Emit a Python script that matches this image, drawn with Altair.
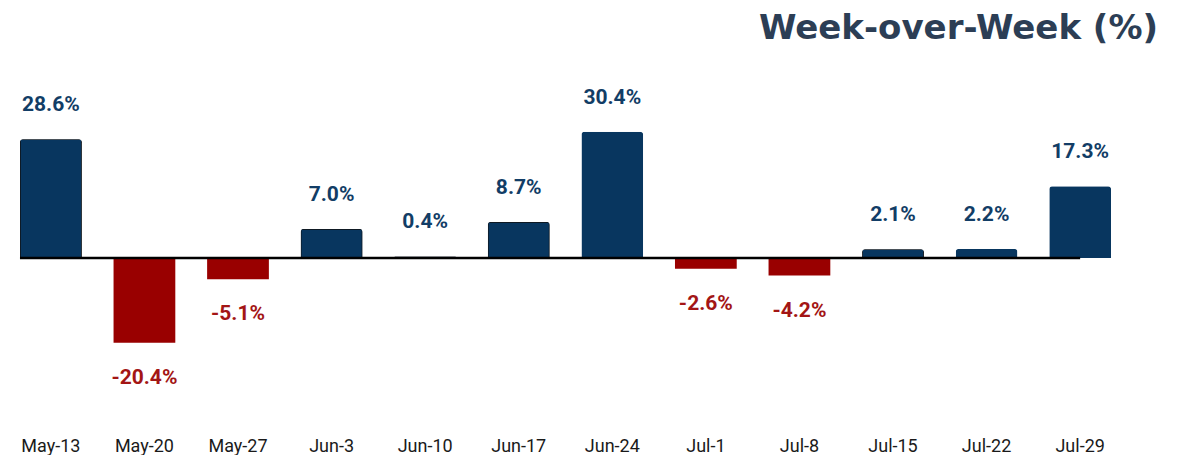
import altair as alt
import pandas as pd

weeks = ["May-13", "May-20", "May-27", "Jun-3", "Jun-10", "Jun-17",
         "Jun-24", "Jul-1", "Jul-8", "Jul-15", "Jul-22", "Jul-29"]
values = [28.6, -20.4, -5.1, 7.0, 0.4, 8.7, 30.4, -2.6, -4.2, 2.1, 2.2, 17.3]
outlined = ["May-13", "Jun-3", "Jun-10", "Jun-17", "Jul-15"]

df = pd.DataFrame({
    "week": weeks,
    "value": values,
    "label": [f"{v:.1f}%" for v in values],
    "outline": [w in outlined for w in weeks],
})

NAVY = "#08365f"
RED = "#990000"
NAVY_TXT = "#123d66"
RED_TXT = "#a31515"
YDOM = [-40.4, 47.4]

x = alt.X("week:N", sort=weeks,
          scale=alt.Scale(paddingInner=0.34, paddingOuter=0.128),
          axis=alt.Axis(title=None, labelAngle=0, domain=False, ticks=False,
                        labelFont="Roboto", labelFontSize=18, labelColor="#1a1a1a",
                        labelPadding=11))
y = alt.Y("value:Q", scale=alt.Scale(domain=YDOM, nice=False, zero=False),
          axis=None)

base = alt.Chart(df)

pos_bars = base.transform_filter("datum.value > 0").mark_bar(
    cornerRadiusTopLeft=3, cornerRadiusTopRight=3, color=NAVY
).encode(
    x=x, y=y,
    stroke=alt.condition("datum.outline", alt.value("#111111"), alt.value(NAVY)),
    strokeWidth=alt.condition("datum.outline", alt.value(1.5), alt.value(0)),
)

neg_bars = base.transform_filter("datum.value < 0").mark_bar(color=RED).encode(
    x=x, y=y,
)

pos_text = base.transform_filter("datum.value > 0").mark_text(
    font="Roboto", fontSize=21, fontWeight="bold", color=NAVY_TXT,
    baseline="middle", dy=-34
).encode(x=x, y=y, text="label:N")

neg_text = base.transform_filter("datum.value < 0").mark_text(
    font="Roboto", fontSize=21, fontWeight="bold", color=RED_TXT,
    baseline="middle", dy=35
).encode(x=x, y=y, text="label:N")

zero_line = alt.Chart(pd.DataFrame({"z": [0]})).mark_rule(
    color="#000000", strokeWidth=2.5
).encode(
    x=alt.XDatum("May-13", bandPosition=0),
    x2=alt.X2Datum("Jul-29", bandPosition=0.5),
    y=alt.Y("z:Q", scale=alt.Scale(domain=YDOM, nice=False, zero=False), axis=None),
)

chart = alt.layer(pos_bars, neg_bars, zero_line, pos_text, neg_text).properties(
    width=1115, height=365,
    background="white",
    title=alt.TitleParams("Week-over-Week (%)", anchor="end", font="DejaVu Sans",
                          fontSize=34, fontWeight="bold", color="#2c3e55",
                          dx=35, offset=15),
    padding={"left": 0, "top": 4, "right": 0, "bottom": 0},
).configure_view(strokeWidth=0, stroke="transparent")

chart.save("out.html", embed_options={"renderer": "svg", "actions": False})
